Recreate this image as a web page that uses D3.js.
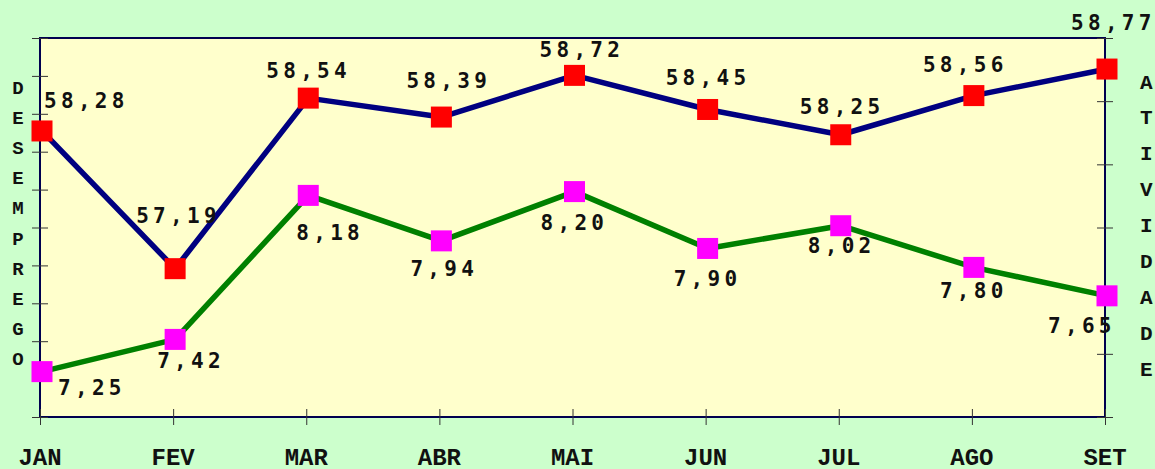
<!DOCTYPE html>
<html>
<head>
<meta charset="utf-8">
<script src="https://cdn.jsdelivr.net/npm/d3@7"></script>
<style>
  html, body { margin: 0; padding: 0; background: #ccffcc; }
  svg { display: block; }
  .axislabel { font-family: "Liberation Mono", "Courier New", monospace; font-weight: bold; }
</style>
</head>
<body>
<div id="chart"></div>
<script>
  var width = 1155;
  var height = 469;
  var margin = { "top": 38, "bottom": 52, "right": 50, "left": 40 };

  // data
  var months = ["JAN", "FEV", "MAR", "ABR", "MAI", "JUN", "JUL", "AGO", "SET"];
  var atividade = [58.28, 57.19, 58.54, 58.39, 58.72, 58.45, 58.25, 58.56, 58.77];
  var desemprego = [7.25, 7.42, 8.18, 7.94, 8.20, 7.90, 8.02, 7.80, 7.65];
  var leftTicks = [7.0, 7.2, 7.4, 7.6, 7.8, 8.0, 8.2, 8.4, 8.6, 8.8, 9.0];
  var rightTicks = [56.0, 56.5, 57.0, 57.5, 58.0, 58.5, 59.0];
  var leftTitle = "DESEMPREGO";
  var rightTitle = "ATIVIDADE";

  // label placement (offset from marker to start of text)
  var atividadeOffset = [[2, -23], [-39, -46], [-42, -20], [-35, -29], [-35, -18], [-42, -24], [-41, -21], [-51, -24], [-36, -39]];
  var desempregoOffset = [[16, 23], [-18, 29], [-12, 45], [-31, 35], [-34, 38], [-34, 38], [-33, 27], [-34, 31], [-59, 37]];

  var fmt = d3.formatLocale({ decimal: ",", thousands: ".", grouping: [3], currency: ["", ""] }).format(".2f");

  var svg = d3.select("#chart")
    .append("svg")
    .attr("width", width)
    .attr("height", height);

  svg.append("rect")
    .attr("width", width)
    .attr("height", height)
    .attr("fill", "#ccffcc");

  var xScale = d3.scalePoint()
    .domain(months)
    .range([margin.left, width - margin.right])
    .padding(0);

  var yLeft = d3.scaleLinear()
    .domain([7, 9])
    .range([height - margin.bottom, margin.top]);

  var yRight = d3.scaleLinear()
    .domain([56, 59])
    .range([height - margin.bottom, margin.top]);

  // plot area
  svg.append("rect")
    .attr("x", margin.left)
    .attr("y", margin.top)
    .attr("width", width - margin.left - margin.right)
    .attr("height", height - margin.top - margin.bottom)
    .attr("fill", "#ffffcc")
    .attr("stroke", "#000050")
    .attr("stroke-width", 2);

  // axes, ticks crossing the line
  var gx = svg.append("g")
    .attr("transform", "translate(0," + (height - margin.bottom) + ")")
    .call(d3.axisBottom(xScale).tickSize(8).tickFormat(""));
  gx.select(".domain").remove();
  gx.selectAll(".tick line").attr("y1", -8).attr("y2", 8).attr("stroke", "#333");

  var gl = svg.append("g")
    .attr("transform", "translate(" + margin.left + ",0)")
    .call(d3.axisLeft(yLeft).tickValues(leftTicks).tickSize(8).tickFormat(""));
  gl.select(".domain").remove();
  gl.selectAll(".tick line").attr("x1", 8).attr("x2", -8).attr("stroke", "#333");

  var gr = svg.append("g")
    .attr("transform", "translate(" + (width - margin.right) + ",0)")
    .call(d3.axisRight(yRight).tickValues(rightTicks).tickSize(8).tickFormat(""));
  gr.select(".domain").remove();
  gr.selectAll(".tick line").attr("x1", -8).attr("x2", 8).attr("stroke", "#333");

  // month labels
  svg.append("g").selectAll("text")
    .data(months)
    .enter()
    .append("text")
    .attr("class", "axislabel")
    .attr("x", function(d) { return xScale(d); })
    .attr("y", 465)
    .attr("text-anchor", "middle")
    .attr("font-size", "24px")
    .attr("fill", "#111")
    .text(function(d) { return d; });

  // stacked axis titles
  svg.append("g").selectAll("text")
    .data(leftTitle.split(""))
    .enter()
    .append("text")
    .attr("class", "axislabel")
    .attr("x", 18)
    .attr("y", function(d, i) { return 94 + i * 30.1; })
    .attr("text-anchor", "middle")
    .attr("font-size", "19px")
    .attr("fill", "#111")
    .text(function(d) { return d; });

  svg.append("g").selectAll("text")
    .data(rightTitle.split(""))
    .enter()
    .append("text")
    .attr("class", "axislabel")
    .attr("x", 1140)
    .attr("y", function(d, i) { return 88.5 + i * 35.9; })
    .attr("font-size", "21px")
    .attr("fill", "#111")
    .text(function(d) { return d; });

  var series = svg.append("g").attr("transform", "translate(2,2)");

  function drawSeries(values, yScale, lineColor, markColor, offsets) {
    var line = d3.line()
      .x(function(d, i) { return xScale(months[i]); })
      .y(function(d) { return yScale(d); });

    series.append("path")
      .datum(values)
      .attr("d", line)
      .attr("fill", "none")
      .attr("stroke", lineColor)
      .attr("stroke-width", 5.5)
      .attr("stroke-linejoin", "round");

    series.append("g").selectAll("rect")
      .data(values)
      .enter()
      .append("rect")
      .attr("x", function(d, i) { return xScale(months[i]) - 10.5; })
      .attr("y", function(d) { return yScale(d) - 10.5; })
      .attr("width", 21)
      .attr("height", 21)
      .attr("fill", markColor);

    series.append("g").selectAll("text")
      .data(values)
      .enter()
      .append("text")
      .attr("x", function(d, i) { return xScale(months[i]) + offsets[i][0]; })
      .attr("y", function(d, i) { return yScale(d) + offsets[i][1]; })
      .attr("font-family", "'DejaVu Sans Mono', monospace")
      .attr("font-weight", "bold")
      .attr("font-size", "21px")
      .attr("letter-spacing", "4.3px")
      .attr("fill", "#111")
      .text(function(d) { return fmt(d); });
  }

  drawSeries(atividade, yRight, "#000080", "#ff0000", atividadeOffset);
  drawSeries(desemprego, yLeft, "#008000", "#ff00ff", desempregoOffset);
</script>
</body>
</html>
